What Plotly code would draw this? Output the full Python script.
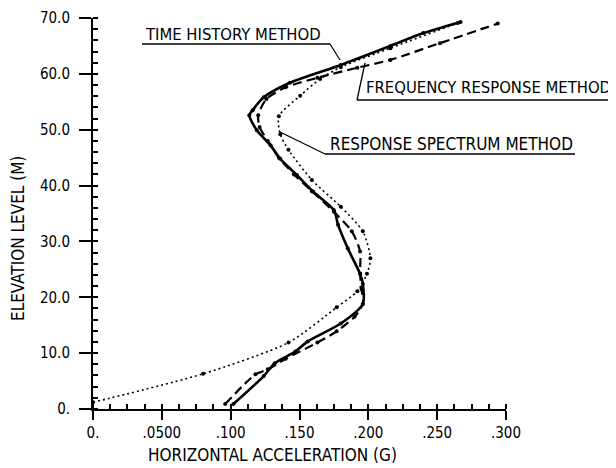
import plotly.graph_objects as go

# ---- data ----
time_history_x = [0.102, 0.124, 0.132, 0.147, 0.156, 0.180, 0.196, 0.196, 0.194, 0.185, 0.178,
                  0.175, 0.160, 0.148, 0.136, 0.129, 0.119, 0.1135, 0.116, 0.124, 0.143, 0.180,
                  0.216, 0.240, 0.267]
time_history_y = [0.9, 5.9, 8.2, 10.3, 12.1, 15.3, 18.8, 22.4, 24.2, 28.8, 33.0,
                  35.6, 38.9, 41.9, 44.8, 47.2, 49.9, 52.6, 53.5, 55.8, 58.4, 61.6,
                  65.0, 67.3, 69.3]

freq_resp_x = [0.096, 0.118, 0.127, 0.140, 0.163, 0.177, 0.190, 0.196, 0.195, 0.194, 0.194,
               0.188, 0.175, 0.159, 0.146, 0.135, 0.127, 0.121, 0.120, 0.126, 0.140, 0.163,
               0.192, 0.216, 0.252, 0.294]
freq_resp_y = [0.9, 6.2, 7.1, 9.0, 11.9, 13.9, 16.5, 18.8, 21.5, 24.2, 28.2,
               31.8, 35.3, 39.0, 42.0, 45.0, 48.0, 50.5, 52.6, 55.5, 57.6, 59.3,
               61.1, 62.5, 65.5, 69.0]

resp_spec_x = [0.000, 0.080, 0.142, 0.177, 0.192, 0.199, 0.2015, 0.196, 0.180, 0.159,
               0.142, 0.136, 0.135, 0.1505, 0.165, 0.180, 0.216, 0.265]
resp_spec_y = [1.2, 6.3, 11.9, 18.2, 21.1, 24.2, 27.0, 31.8, 36.2, 41.0,
               46.4, 49.2, 52.4, 56.1, 59.1, 61.2, 64.6, 69.1]

x_tick_vals = [0, 0.05, 0.10, 0.15, 0.20, 0.25, 0.30]
x_tick_text = ["0.", ".0500", ".100", ".150", ".200", ".250", ".300"]
y_tick_vals = [0, 10, 20, 30, 40, 50, 60, 70]
y_tick_text = ["0.", "10.0", "20.0", "30.0", "40.0", "50.0", "60.0", "70.0"]

FONT = "DejaVu Sans Condensed, DejaVu Sans, sans-serif"

fig = go.Figure()
fig.add_trace(go.Scatter(x=resp_spec_x, y=resp_spec_y, mode="lines+markers",
                         line=dict(color="black", width=1.6, dash="2px,3px", shape="spline", smoothing=0.7),
                         marker=dict(color="black", size=4), name="Response spectrum"))
fig.add_trace(go.Scatter(x=freq_resp_x, y=freq_resp_y, mode="lines+markers",
                         line=dict(color="black", width=2.2, dash="9px,5px", shape="spline", smoothing=0.7),
                         marker=dict(color="black", size=4), name="Frequency response"))
fig.add_trace(go.Scatter(x=time_history_x, y=time_history_y, mode="lines+markers",
                         line=dict(color="black", width=2.6, shape="spline", smoothing=0.7),
                         marker=dict(color="black", size=4), name="Time history"))

# The page has an 8px body margin: size the figure to the visible area and
# express layout positions in page pixels shifted by that margin.
OFF = 8
W, H = 616 - OFF, 468 - OFF
L, R, T, B = 93 - OFF, 506 - OFF, 18 - OFF, 409 - OFF
def px(x):
    return (x - OFF - L) / (R - L)
def py(y):
    return (B - (y - OFF)) / (B - T)

shapes = []
def seg(x0, y0, x1, y1, w=1.3):
    shapes.append(dict(type="line", xref="paper", yref="paper",
                       x0=px(x0), y0=py(y0), x1=px(x1), y1=py(y1),
                       line=dict(color="black", width=w)))

# leader lines (page pixel positions)
seg(142, 44, 330, 44); seg(330, 44, 340, 60)
seg(357, 100, 615, 100); seg(357, 100, 365, 63)
seg(325, 154, 575, 154); seg(325, 154, 280, 132)

annots = []
def label(text, cx, cy, size=16.5, angle=0, anchor="center"):
    annots.append(dict(text=text, xref="paper", yref="paper", x=px(cx), y=py(cy),
                       showarrow=False, xanchor=anchor, yanchor="middle", textangle=angle,
                       font=dict(family=FONT, size=size, color="black")))

label("TIME HISTORY METHOD", 233, 35)
label("FREQUENCY RESPONSE METHOD", 613, 88, anchor="right")
label("RESPONSE SPECTRUM METHOD", 451, 144, size=17)
# axis titles
label("HORIZONTAL ACCELERATION (G)", 272, 455, size=17)
label("ELEVATION LEVEL (M)", 18, 239, size=17, angle=-90)

fig.update_layout(
    width=W, height=H,
    margin=dict(l=L, r=W - R, t=T, b=H - B),
    paper_bgcolor="white", plot_bgcolor="white",
    showlegend=False,
    font=dict(family=FONT, size=15, color="black"),
    shapes=shapes, annotations=annots,
)
fig.update_xaxes(
    range=[0, 0.3], tickmode="array", tickvals=x_tick_vals, ticktext=x_tick_text,
    showgrid=False, zeroline=False, showline=True, linecolor="black", linewidth=2,
    ticks="outside", ticklen=9, tickwidth=2, tickcolor="black", automargin=False,
    ticklabeloverflow="allow",
    minor=dict(dtick=0.0125, ticks="inside", ticklen=5, tickwidth=1.5, tickcolor="black", showgrid=False),
    tickfont=dict(family=FONT, size=15),
)
fig.update_yaxes(
    range=[0, 70], tickmode="array", tickvals=y_tick_vals, ticktext=y_tick_text,
    showgrid=False, zeroline=False, showline=True, linecolor="black", linewidth=2,
    ticks="outside", ticklen=12, tickwidth=2, tickcolor="black", automargin=False,
    ticklabelstandoff=6, ticklabeloverflow="allow",
    minor=dict(dtick=2, ticks="inside", ticklen=5, tickwidth=1.5, tickcolor="black", showgrid=False),
    tickfont=dict(family=FONT, size=15),
)

fig.write_html("out.html")
